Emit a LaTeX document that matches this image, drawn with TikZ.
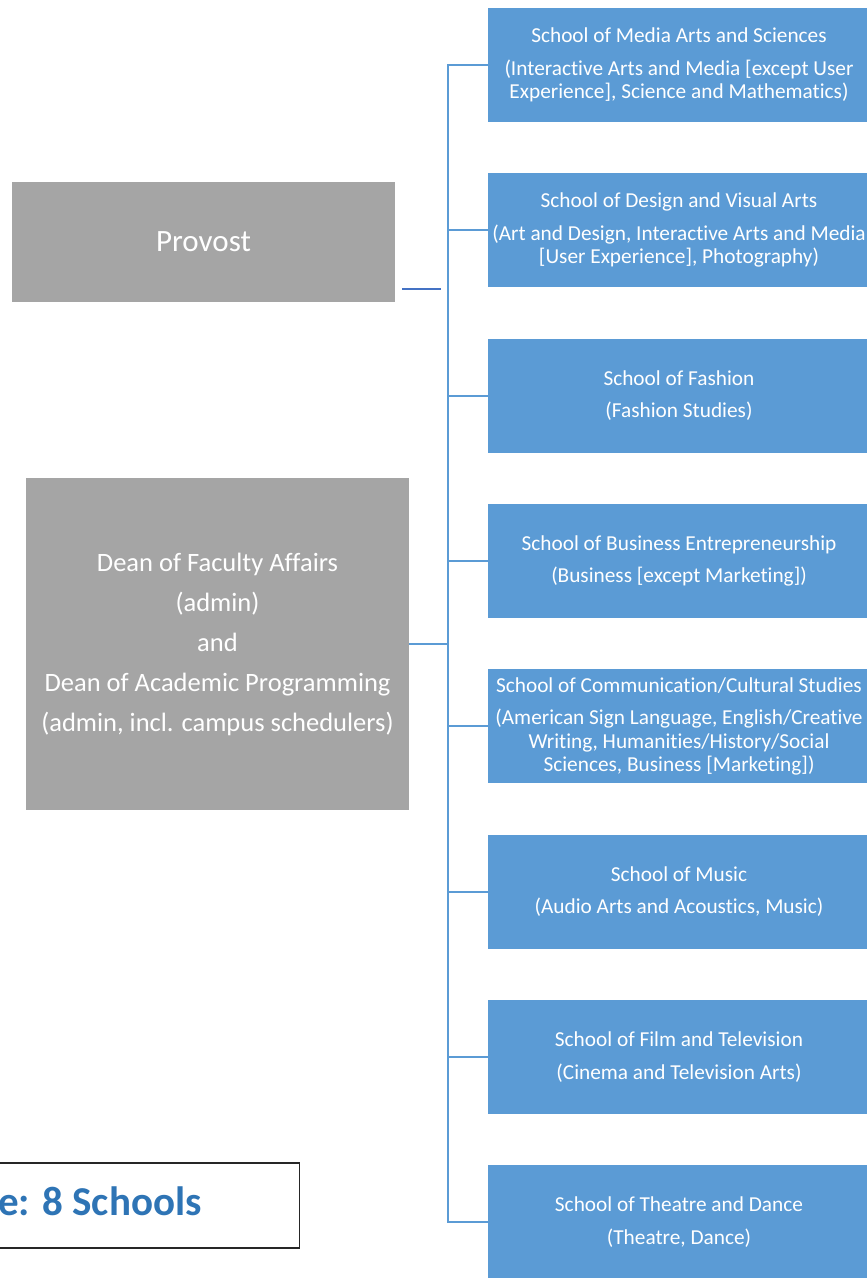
\documentclass[tikz,border=0pt]{standalone}
\usepackage{fontspec}
\setmainfont{Carlito}[Ligatures=CommonOff]
\usetikzlibrary{positioning}

\definecolor{schoolblue}{HTML}{5B9BD5}
\definecolor{admingray}{HTML}{A5A5A5}
\definecolor{noteblue}{HTML}{2E74B5}
\definecolor{provline}{HTML}{4472C4}

\begin{document}
\begin{tikzpicture}[x=1pt, y=-1pt,
	school/.style={fill=schoolblue, text=white, minimum width=382pt,
		minimum height=114pt, inner sep=0pt, align=center,
		font=\fontsize{21.3}{23.5}\selectfont,
		execute at begin node={\rule{0pt}{19pt}}},
	admin/.style={fill=admingray, text=white, inner sep=0pt, align=center},
	link/.style={draw=schoolblue, line width=2pt}]

	\def\sx{679}   % centre of the school column
	\def\dy{165.33} % step between schools

	\useasboundingbox (0,0) rectangle (867,1278);
	\clip (0,0) rectangle (867,1278);

	% admin boxes
	\node[admin, minimum width=383pt, minimum height=120pt,
		font=\fontsize{31}{36}\selectfont] (provost) at (203.5,242) {Provost};
	\node[admin, minimum width=383pt, minimum height=332pt,
		font=\fontsize{26.5}{40}\selectfont] (dean) at (217.5,644)
		{Dean of Faculty Affairs\\(admin)\\and\\Dean of Academic Programming\\(admin, incl. campus schedulers)};

	% schools
	\node[school] (s1) at (\sx,65) {School of Media Arts and Sciences\\[9pt]
		(Interactive Arts and Media [except User\\Experience], Science and Mathematics)};
	\node[school] (s2) at (\sx,65+\dy) {School of Design and Visual Arts\\[9pt]
		(Art and Design, Interactive Arts and Media\\{}[User Experience], Photography)};
	\node[school] (s3) at (\sx,65+2*\dy) {School of Fashion\\[9pt](Fashion Studies)};
	\node[school] (s4) at (\sx,65+3*\dy) {School of Business Entrepreneurship\\[9pt]
		(Business [except Marketing])};
	\node[school] (s5) at (\sx,65+4*\dy) {School of Communication/Cultural Studies\\[9pt]
		(American Sign Language, English/Creative\\Writing, Humanities/History/Social\\Sciences, Business [Marketing])};
	\node[school] (s6) at (\sx,65+5*\dy) {School of Music\\[9pt](Audio Arts and Acoustics, Music)};
	\node[school] (s7) at (\sx,65+6*\dy) {School of Film and Television\\[9pt](Cinema and Television Arts)};
	\node[school] (s8) at (\sx,65+7*\dy) {School of Theatre and Dance\\[9pt](Theatre, Dance)};

	% spine and branches
	\coordinate (top) at (448,65);
	\draw[link] (s1.west) -- (top) |- (s8.west);
	\foreach \i in {2,...,7}
		\draw[link] (s\i.west) -- (s\i.west -| top);
	\draw[link] (dean.east) -- (dean.east -| top);

	% loose line under provost
	\coordinate (pa) at (402,289);
	\coordinate (pb) at (441,289);
	\draw[provline, line width=1.3pt] (pa) -- (pb);

	% note box, cut at the left edge
	\node[draw=black!85, line width=1.2pt, minimum width=380pt,
		minimum height=85pt, anchor=east] (note) at (300,1205.5) {};
	\node[anchor=base west, inner sep=0pt, text=noteblue,
		font=\fontsize{41}{46}\selectfont\bfseries] (notetext) at (-2,1215) {e: 8 Schools};

\end{tikzpicture}
\end{document}
